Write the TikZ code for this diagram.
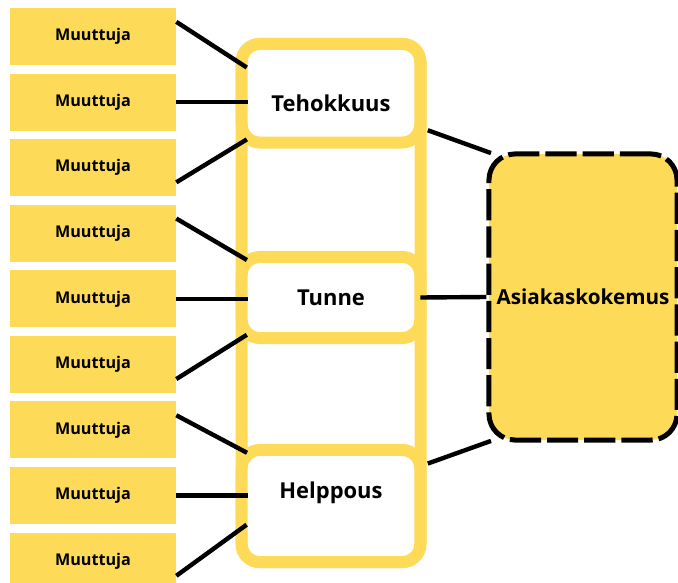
\documentclass[tikz,border=0pt]{standalone}
\usepackage{fontspec}
\setmainfont{Open Sans}
\usepackage{tikz}
\usetikzlibrary{positioning}
\definecolor{keltainen}{RGB}{253,219,88}

\begin{document}
\begin{tikzpicture}[x=0.025cm, y=-0.025cm,
    muuttuja/.style={fill=keltainen, minimum width=4.15cm, minimum height=1.425cm, inner sep=0pt, font=\bfseries\fontsize{11.5}{13}\selectfont},
    ryhma/.style={draw=keltainen, fill=white, line width=0.3cm, rounded corners=0.45cm, minimum width=4.4625cm, outer sep=0pt, inner sep=0pt},
    otsikko/.style={font=\bfseries\fontsize{15.6}{18}\selectfont},
    yhteys/.style={line width=0.11cm},
  ]
  \path[use as bounding box] (0,0) rectangle (678,583);
  \clip (0,0) rectangle (678,583);

  % muuttujat
  \node [muuttuja] at (93,36.5) (m1) {Muuttuja};
  \node [muuttuja, below=0.2cm of m1] (m2) {Muuttuja};
  \node [muuttuja, below=0.2cm of m2] (m3) {Muuttuja};
  \node [muuttuja, below=0.2cm of m3] (m4) {Muuttuja};
  \node [muuttuja, below=0.2cm of m4] (m5) {Muuttuja};
  \node [muuttuja, below=0.2cm of m5] (m6) {Muuttuja};
  \node [muuttuja, below=0.2cm of m6] (m7) {Muuttuja};
  \node [muuttuja, below=0.2cm of m7] (m8) {Muuttuja};
  \node [muuttuja, below=0.2cm of m8] (m9) {Muuttuja};

  % kehys ja ryhmat
  \draw [draw=keltainen, line width=0.3cm, rounded corners=0.45cm] (241.5,44) rectangle (420.5,562);
  \node [ryhma, minimum height=2.4625cm,
         label={[otsikko, name=teho-t, yshift=-0.24cm]center:Tehokkuus}] at (331,93.25) (teho) {};
  \node [ryhma, minimum height=2.025cm,
         label={[otsikko, name=tunne-t]center:Tunne}] at (331,297.5) (tunne) {};
  \node [ryhma, minimum height=2.8cm,
         label={[otsikko, name=helppo-t, yshift=0.325cm]center:Helppous}] at (331,506) (helppo) {};

  \node [draw=black, fill=keltainen, line width=0.125cm, dash pattern=on 0.78cm off 0.15cm,
         rounded corners=0.65cm, minimum width=4.7cm, minimum height=7.15cm,
         font=\bfseries\fontsize{14.7}{16}\selectfont] at (583,297) (asiakas) {Asiakaskokemus};

  % yhteydet
  \draw [yhteys, shorten >=-0.15cm] (m1.10) -- (teho.162);
  \draw [yhteys, shorten >=-0.15cm] (m2.east) -- (m2.east -| teho.west);
  \draw [yhteys, shorten >=-0.15cm] (m3.-10) -- (teho.south west);
  \draw [yhteys, shorten >=-0.15cm] (m4.10) -- (tunne.north west);
  \draw [yhteys, shorten >=-0.15cm] (m5.east) -- (m5.east -| tunne.west);
  \draw [yhteys, shorten >=-0.15cm] (m6.-10) -- (tunne.south west);
  \draw [yhteys, shorten >=-0.15cm] (m7.10) -- (helppo.north west);
  \draw [yhteys, shorten >=-0.15cm] (m8.east) -- (m8.east -| helppo.west);
  \draw [yhteys, shorten >=-0.15cm] (m9.-10) -- (helppo.194);
%  \draw [yhteys] (teho.east) -- (asiakas.west);
  \draw [yhteys, shorten <=0.2cm, shorten >=-0.12cm] (teho.-21.5) -- (asiakas.north west);
  \draw [yhteys] (tunne.east) -- (asiakas.west);
  \draw [yhteys, shorten <=0.2cm, shorten >=-0.12cm] (helppo.24) -- (asiakas.south west);
\end{tikzpicture}
\end{document}
